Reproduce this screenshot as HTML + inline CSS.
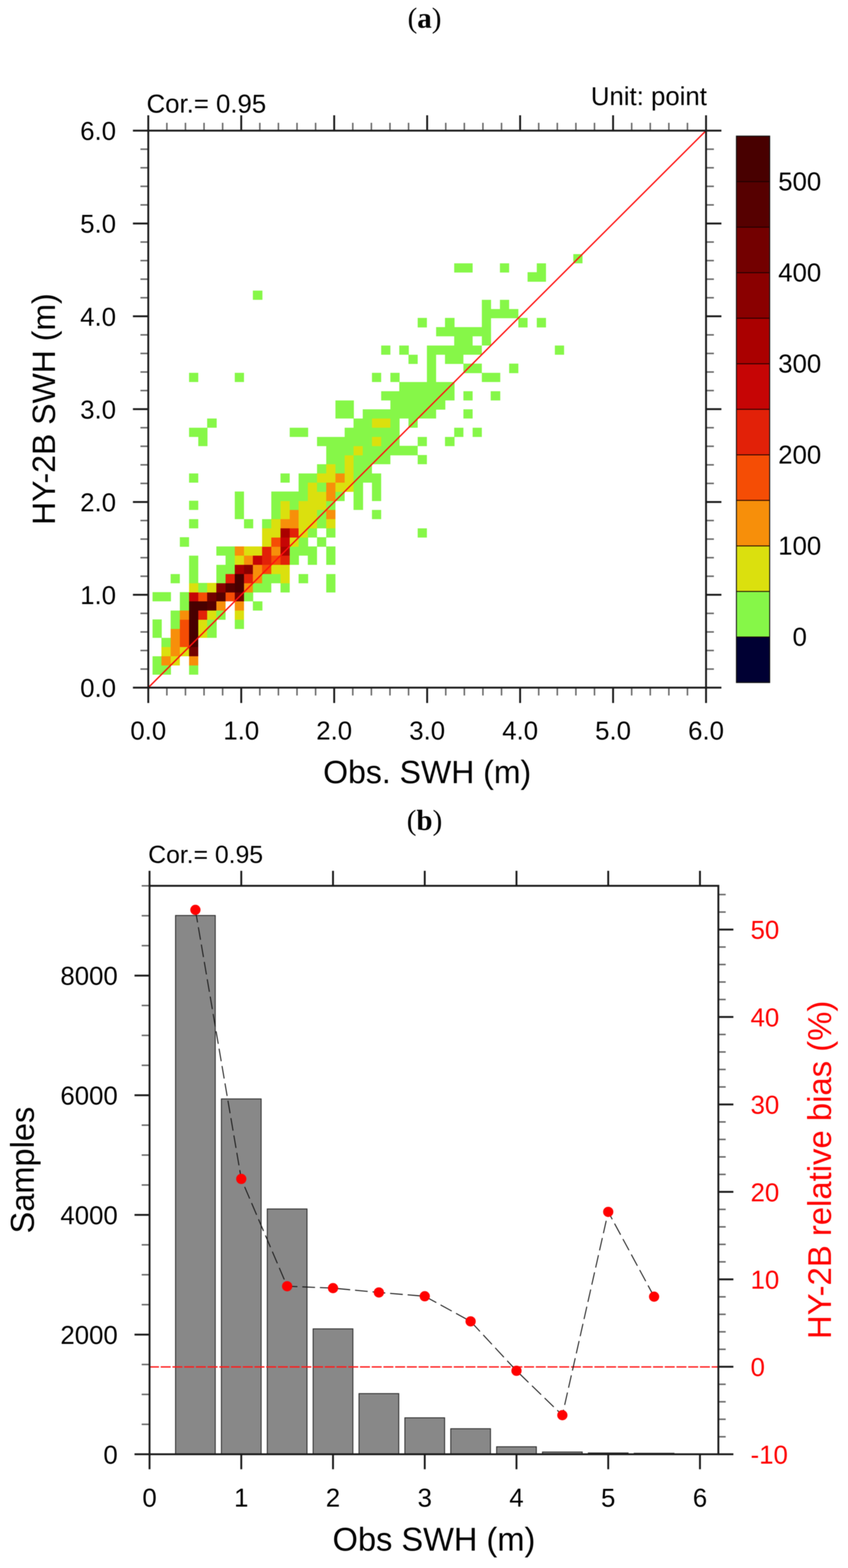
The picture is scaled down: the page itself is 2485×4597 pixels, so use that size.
<!DOCTYPE html>
<html lang="en">
<head>
<meta charset="utf-8">
<title>HY-2B SWH validation: (a) scatter density, (b) samples and relative bias</title>
<style>
html, body { margin: 0; padding: 0; background: #ffffff; }
body { width: 2485px; height: 4597px; overflow: hidden; }
svg { display: block; filter: blur(1px); }
</style>
</head>
<body>
<svg width="2485" height="4597" viewBox="0 0 2485 4597">
<rect x="0" y="0" width="2485" height="4597" fill="#ffffff"/>
<g shape-rendering="crispEdges">
<rect x="446.5" y="1950.42" width="27.21" height="27.19" fill="#86f748"/>
<rect x="473.31" y="1950.42" width="27.21" height="27.19" fill="#86f748"/>
<rect x="553.74" y="1950.42" width="27.21" height="27.19" fill="#86f748"/>
<rect x="446.5" y="1923.63" width="27.21" height="27.19" fill="#86f748"/>
<rect x="473.31" y="1923.63" width="27.21" height="27.19" fill="#f78f0a"/>
<rect x="500.12" y="1923.63" width="27.21" height="27.19" fill="#dbe00e"/>
<rect x="553.74" y="1923.63" width="27.21" height="27.19" fill="#f78f0a"/>
<rect x="473.31" y="1896.84" width="27.21" height="27.19" fill="#dbe00e"/>
<rect x="500.12" y="1896.84" width="27.21" height="27.19" fill="#f78f0a"/>
<rect x="526.93" y="1896.84" width="27.21" height="27.19" fill="#dbe00e"/>
<rect x="553.74" y="1896.84" width="27.21" height="27.19" fill="#730000"/>
<rect x="473.31" y="1870.05" width="27.21" height="27.19" fill="#86f748"/>
<rect x="500.12" y="1870.05" width="27.21" height="27.19" fill="#f78f0a"/>
<rect x="526.93" y="1870.05" width="27.21" height="27.19" fill="#f54d05"/>
<rect x="553.74" y="1870.05" width="27.21" height="27.19" fill="#480000"/>
<rect x="446.5" y="1843.26" width="27.21" height="27.19" fill="#86f748"/>
<rect x="500.12" y="1843.26" width="27.21" height="27.19" fill="#f78f0a"/>
<rect x="526.93" y="1843.26" width="27.21" height="27.19" fill="#f54d05"/>
<rect x="553.74" y="1843.26" width="27.21" height="27.19" fill="#480000"/>
<rect x="580.55" y="1843.26" width="27.21" height="27.19" fill="#dbe00e"/>
<rect x="607.36" y="1843.26" width="27.21" height="27.19" fill="#86f748"/>
<rect x="446.5" y="1816.47" width="27.21" height="27.19" fill="#86f748"/>
<rect x="500.12" y="1816.47" width="27.21" height="27.19" fill="#86f748"/>
<rect x="526.93" y="1816.47" width="27.21" height="27.19" fill="#f54d05"/>
<rect x="553.74" y="1816.47" width="27.21" height="27.19" fill="#480000"/>
<rect x="580.55" y="1816.47" width="27.21" height="27.19" fill="#dbe00e"/>
<rect x="607.36" y="1816.47" width="27.21" height="27.19" fill="#86f748"/>
<rect x="687.79" y="1816.47" width="27.21" height="27.19" fill="#86f748"/>
<rect x="500.12" y="1789.68" width="27.21" height="27.19" fill="#86f748"/>
<rect x="526.93" y="1789.68" width="27.21" height="27.19" fill="#f78f0a"/>
<rect x="553.74" y="1789.68" width="27.21" height="27.19" fill="#480000"/>
<rect x="580.55" y="1789.68" width="27.21" height="27.19" fill="#e22108"/>
<rect x="607.36" y="1789.68" width="27.21" height="27.19" fill="#dbe00e"/>
<rect x="634.17" y="1789.68" width="27.21" height="27.19" fill="#86f748"/>
<rect x="687.79" y="1789.68" width="27.21" height="27.19" fill="#dbe00e"/>
<rect x="526.93" y="1762.89" width="27.21" height="27.19" fill="#86f748"/>
<rect x="553.74" y="1762.89" width="27.21" height="27.19" fill="#480000"/>
<rect x="580.55" y="1762.89" width="27.21" height="27.19" fill="#480000"/>
<rect x="607.36" y="1762.89" width="27.21" height="27.19" fill="#560000"/>
<rect x="634.17" y="1762.89" width="27.21" height="27.19" fill="#f78f0a"/>
<rect x="687.79" y="1762.89" width="27.21" height="27.19" fill="#f78f0a"/>
<rect x="741.41" y="1762.89" width="27.21" height="27.19" fill="#86f748"/>
<rect x="446.5" y="1736.1" width="27.21" height="27.19" fill="#86f748"/>
<rect x="473.31" y="1736.1" width="27.21" height="27.19" fill="#86f748"/>
<rect x="526.93" y="1736.1" width="27.21" height="27.19" fill="#86f748"/>
<rect x="553.74" y="1736.1" width="27.21" height="27.19" fill="#c60505"/>
<rect x="580.55" y="1736.1" width="27.21" height="27.19" fill="#f54d05"/>
<rect x="607.36" y="1736.1" width="27.21" height="27.19" fill="#730000"/>
<rect x="634.17" y="1736.1" width="27.21" height="27.19" fill="#560000"/>
<rect x="660.98" y="1736.1" width="27.21" height="27.19" fill="#f54d05"/>
<rect x="687.79" y="1736.1" width="27.21" height="27.19" fill="#730000"/>
<rect x="714.6" y="1736.1" width="27.21" height="27.19" fill="#86f748"/>
<rect x="553.74" y="1709.31" width="27.21" height="27.19" fill="#dbe00e"/>
<rect x="580.55" y="1709.31" width="27.21" height="27.19" fill="#86f748"/>
<rect x="607.36" y="1709.31" width="27.21" height="27.19" fill="#dbe00e"/>
<rect x="634.17" y="1709.31" width="27.21" height="27.19" fill="#8a0000"/>
<rect x="660.98" y="1709.31" width="27.21" height="27.19" fill="#560000"/>
<rect x="687.79" y="1709.31" width="27.21" height="27.19" fill="#480000"/>
<rect x="714.6" y="1709.31" width="27.21" height="27.19" fill="#f78f0a"/>
<rect x="741.41" y="1709.31" width="27.21" height="27.19" fill="#86f748"/>
<rect x="768.22" y="1709.31" width="27.21" height="27.19" fill="#86f748"/>
<rect x="821.84" y="1709.31" width="27.21" height="27.19" fill="#86f748"/>
<rect x="955.89" y="1709.31" width="27.21" height="27.19" fill="#86f748"/>
<rect x="500.12" y="1682.52" width="27.21" height="27.19" fill="#86f748"/>
<rect x="553.74" y="1682.52" width="27.21" height="27.19" fill="#86f748"/>
<rect x="634.17" y="1682.52" width="27.21" height="27.19" fill="#86f748"/>
<rect x="660.98" y="1682.52" width="27.21" height="27.19" fill="#e22108"/>
<rect x="687.79" y="1682.52" width="27.21" height="27.19" fill="#480000"/>
<rect x="714.6" y="1682.52" width="27.21" height="27.19" fill="#e22108"/>
<rect x="741.41" y="1682.52" width="27.21" height="27.19" fill="#f78f0a"/>
<rect x="768.22" y="1682.52" width="27.21" height="27.19" fill="#86f748"/>
<rect x="795.03" y="1682.52" width="27.21" height="27.19" fill="#86f748"/>
<rect x="821.84" y="1682.52" width="27.21" height="27.19" fill="#dbe00e"/>
<rect x="875.46" y="1682.52" width="27.21" height="27.19" fill="#86f748"/>
<rect x="955.89" y="1682.52" width="27.21" height="27.19" fill="#86f748"/>
<rect x="553.74" y="1655.73" width="27.21" height="27.19" fill="#86f748"/>
<rect x="634.17" y="1655.73" width="27.21" height="27.19" fill="#86f748"/>
<rect x="660.98" y="1655.73" width="27.21" height="27.19" fill="#86f748"/>
<rect x="687.79" y="1655.73" width="27.21" height="27.19" fill="#aa0000"/>
<rect x="714.6" y="1655.73" width="27.21" height="27.19" fill="#8a0000"/>
<rect x="741.41" y="1655.73" width="27.21" height="27.19" fill="#f78f0a"/>
<rect x="768.22" y="1655.73" width="27.21" height="27.19" fill="#f54d05"/>
<rect x="795.03" y="1655.73" width="27.21" height="27.19" fill="#dbe00e"/>
<rect x="821.84" y="1655.73" width="27.21" height="27.19" fill="#dbe00e"/>
<rect x="553.74" y="1628.94" width="27.21" height="27.19" fill="#86f748"/>
<rect x="660.98" y="1628.94" width="27.21" height="27.19" fill="#86f748"/>
<rect x="687.79" y="1628.94" width="27.21" height="27.19" fill="#dbe00e"/>
<rect x="714.6" y="1628.94" width="27.21" height="27.19" fill="#f78f0a"/>
<rect x="741.41" y="1628.94" width="27.21" height="27.19" fill="#c60505"/>
<rect x="768.22" y="1628.94" width="27.21" height="27.19" fill="#e22108"/>
<rect x="795.03" y="1628.94" width="27.21" height="27.19" fill="#f54d05"/>
<rect x="821.84" y="1628.94" width="27.21" height="27.19" fill="#e22108"/>
<rect x="848.65" y="1628.94" width="27.21" height="27.19" fill="#86f748"/>
<rect x="902.27" y="1628.94" width="27.21" height="27.19" fill="#86f748"/>
<rect x="955.89" y="1628.94" width="27.21" height="27.19" fill="#86f748"/>
<rect x="634.17" y="1602.15" width="27.21" height="27.19" fill="#86f748"/>
<rect x="660.98" y="1602.15" width="27.21" height="27.19" fill="#86f748"/>
<rect x="687.79" y="1602.15" width="27.21" height="27.19" fill="#f78f0a"/>
<rect x="714.6" y="1602.15" width="27.21" height="27.19" fill="#dbe00e"/>
<rect x="741.41" y="1602.15" width="27.21" height="27.19" fill="#dbe00e"/>
<rect x="768.22" y="1602.15" width="27.21" height="27.19" fill="#e22108"/>
<rect x="795.03" y="1602.15" width="27.21" height="27.19" fill="#f78f0a"/>
<rect x="821.84" y="1602.15" width="27.21" height="27.19" fill="#aa0000"/>
<rect x="848.65" y="1602.15" width="27.21" height="27.19" fill="#86f748"/>
<rect x="875.46" y="1602.15" width="27.21" height="27.19" fill="#86f748"/>
<rect x="902.27" y="1602.15" width="27.21" height="27.19" fill="#86f748"/>
<rect x="955.89" y="1602.15" width="27.21" height="27.19" fill="#86f748"/>
<rect x="526.93" y="1575.36" width="27.21" height="27.19" fill="#86f748"/>
<rect x="768.22" y="1575.36" width="27.21" height="27.19" fill="#dbe00e"/>
<rect x="795.03" y="1575.36" width="27.21" height="27.19" fill="#f54d05"/>
<rect x="821.84" y="1575.36" width="27.21" height="27.19" fill="#c60505"/>
<rect x="848.65" y="1575.36" width="27.21" height="27.19" fill="#dbe00e"/>
<rect x="875.46" y="1575.36" width="27.21" height="27.19" fill="#86f748"/>
<rect x="929.08" y="1575.36" width="27.21" height="27.19" fill="#86f748"/>
<rect x="768.22" y="1548.57" width="27.21" height="27.19" fill="#dbe00e"/>
<rect x="795.03" y="1548.57" width="27.21" height="27.19" fill="#dbe00e"/>
<rect x="821.84" y="1548.57" width="27.21" height="27.19" fill="#aa0000"/>
<rect x="848.65" y="1548.57" width="27.21" height="27.19" fill="#e22108"/>
<rect x="875.46" y="1548.57" width="27.21" height="27.19" fill="#dbe00e"/>
<rect x="902.27" y="1548.57" width="27.21" height="27.19" fill="#86f748"/>
<rect x="955.89" y="1548.57" width="27.21" height="27.19" fill="#86f748"/>
<rect x="1223.99" y="1548.57" width="27.21" height="27.19" fill="#86f748"/>
<rect x="553.74" y="1521.78" width="27.21" height="27.19" fill="#86f748"/>
<rect x="714.6" y="1521.78" width="27.21" height="27.19" fill="#86f748"/>
<rect x="768.22" y="1521.78" width="27.21" height="27.19" fill="#86f748"/>
<rect x="795.03" y="1521.78" width="27.21" height="27.19" fill="#dbe00e"/>
<rect x="821.84" y="1521.78" width="27.21" height="27.19" fill="#f78f0a"/>
<rect x="848.65" y="1521.78" width="27.21" height="27.19" fill="#f78f0a"/>
<rect x="875.46" y="1521.78" width="27.21" height="27.19" fill="#dbe00e"/>
<rect x="902.27" y="1521.78" width="27.21" height="27.19" fill="#dbe00e"/>
<rect x="929.08" y="1521.78" width="27.21" height="27.19" fill="#86f748"/>
<rect x="955.89" y="1521.78" width="27.21" height="27.19" fill="#dbe00e"/>
<rect x="687.79" y="1494.99" width="27.21" height="27.19" fill="#86f748"/>
<rect x="795.03" y="1494.99" width="27.21" height="27.19" fill="#86f748"/>
<rect x="821.84" y="1494.99" width="27.21" height="27.19" fill="#dbe00e"/>
<rect x="848.65" y="1494.99" width="27.21" height="27.19" fill="#f78f0a"/>
<rect x="875.46" y="1494.99" width="27.21" height="27.19" fill="#dbe00e"/>
<rect x="902.27" y="1494.99" width="27.21" height="27.19" fill="#dbe00e"/>
<rect x="929.08" y="1494.99" width="27.21" height="27.19" fill="#86f748"/>
<rect x="955.89" y="1494.99" width="27.21" height="27.19" fill="#f78f0a"/>
<rect x="1089.94" y="1494.99" width="27.21" height="27.19" fill="#86f748"/>
<rect x="553.74" y="1468.2" width="27.21" height="27.19" fill="#86f748"/>
<rect x="687.79" y="1468.2" width="27.21" height="27.19" fill="#86f748"/>
<rect x="795.03" y="1468.2" width="27.21" height="27.19" fill="#86f748"/>
<rect x="821.84" y="1468.2" width="27.21" height="27.19" fill="#dbe00e"/>
<rect x="848.65" y="1468.2" width="27.21" height="27.19" fill="#86f748"/>
<rect x="875.46" y="1468.2" width="27.21" height="27.19" fill="#dbe00e"/>
<rect x="902.27" y="1468.2" width="27.21" height="27.19" fill="#dbe00e"/>
<rect x="929.08" y="1468.2" width="27.21" height="27.19" fill="#dbe00e"/>
<rect x="955.89" y="1468.2" width="27.21" height="27.19" fill="#86f748"/>
<rect x="1036.32" y="1468.2" width="27.21" height="27.19" fill="#86f748"/>
<rect x="687.79" y="1441.41" width="27.21" height="27.19" fill="#86f748"/>
<rect x="795.03" y="1441.41" width="27.21" height="27.19" fill="#86f748"/>
<rect x="821.84" y="1441.41" width="27.21" height="27.19" fill="#86f748"/>
<rect x="848.65" y="1441.41" width="27.21" height="27.19" fill="#86f748"/>
<rect x="875.46" y="1441.41" width="27.21" height="27.19" fill="#86f748"/>
<rect x="902.27" y="1441.41" width="27.21" height="27.19" fill="#dbe00e"/>
<rect x="929.08" y="1441.41" width="27.21" height="27.19" fill="#dbe00e"/>
<rect x="955.89" y="1441.41" width="27.21" height="27.19" fill="#f78f0a"/>
<rect x="982.7" y="1441.41" width="27.21" height="27.19" fill="#86f748"/>
<rect x="1036.32" y="1441.41" width="27.21" height="27.19" fill="#86f748"/>
<rect x="1089.94" y="1441.41" width="27.21" height="27.19" fill="#86f748"/>
<rect x="875.46" y="1414.62" width="27.21" height="27.19" fill="#86f748"/>
<rect x="902.27" y="1414.62" width="27.21" height="27.19" fill="#dbe00e"/>
<rect x="929.08" y="1414.62" width="27.21" height="27.19" fill="#86f748"/>
<rect x="955.89" y="1414.62" width="27.21" height="27.19" fill="#f78f0a"/>
<rect x="982.7" y="1414.62" width="27.21" height="27.19" fill="#dbe00e"/>
<rect x="1009.51" y="1414.62" width="27.21" height="27.19" fill="#dbe00e"/>
<rect x="1036.32" y="1414.62" width="27.21" height="27.19" fill="#86f748"/>
<rect x="1089.94" y="1414.62" width="27.21" height="27.19" fill="#86f748"/>
<rect x="553.74" y="1387.83" width="27.21" height="27.19" fill="#86f748"/>
<rect x="821.84" y="1387.83" width="27.21" height="27.19" fill="#86f748"/>
<rect x="875.46" y="1387.83" width="27.21" height="27.19" fill="#86f748"/>
<rect x="902.27" y="1387.83" width="27.21" height="27.19" fill="#86f748"/>
<rect x="929.08" y="1387.83" width="27.21" height="27.19" fill="#dbe00e"/>
<rect x="955.89" y="1387.83" width="27.21" height="27.19" fill="#dbe00e"/>
<rect x="982.7" y="1387.83" width="27.21" height="27.19" fill="#f78f0a"/>
<rect x="1009.51" y="1387.83" width="27.21" height="27.19" fill="#dbe00e"/>
<rect x="1036.32" y="1387.83" width="27.21" height="27.19" fill="#86f748"/>
<rect x="1063.13" y="1387.83" width="27.21" height="27.19" fill="#86f748"/>
<rect x="1089.94" y="1387.83" width="27.21" height="27.19" fill="#86f748"/>
<rect x="929.08" y="1361.04" width="27.21" height="27.19" fill="#86f748"/>
<rect x="955.89" y="1361.04" width="27.21" height="27.19" fill="#dbe00e"/>
<rect x="982.7" y="1361.04" width="27.21" height="27.19" fill="#86f748"/>
<rect x="1009.51" y="1361.04" width="27.21" height="27.19" fill="#dbe00e"/>
<rect x="1036.32" y="1361.04" width="27.21" height="27.19" fill="#86f748"/>
<rect x="1063.13" y="1361.04" width="27.21" height="27.19" fill="#86f748"/>
<rect x="955.89" y="1334.25" width="27.21" height="27.19" fill="#86f748"/>
<rect x="982.7" y="1334.25" width="27.21" height="27.19" fill="#86f748"/>
<rect x="1009.51" y="1334.25" width="27.21" height="27.19" fill="#dbe00e"/>
<rect x="1036.32" y="1334.25" width="27.21" height="27.19" fill="#86f748"/>
<rect x="1063.13" y="1334.25" width="27.21" height="27.19" fill="#86f748"/>
<rect x="1089.94" y="1334.25" width="27.21" height="27.19" fill="#86f748"/>
<rect x="1116.75" y="1334.25" width="27.21" height="27.19" fill="#86f748"/>
<rect x="1223.99" y="1334.25" width="27.21" height="27.19" fill="#86f748"/>
<rect x="955.89" y="1307.46" width="27.21" height="27.19" fill="#86f748"/>
<rect x="982.7" y="1307.46" width="27.21" height="27.19" fill="#86f748"/>
<rect x="1009.51" y="1307.46" width="27.21" height="27.19" fill="#86f748"/>
<rect x="1036.32" y="1307.46" width="27.21" height="27.19" fill="#dbe00e"/>
<rect x="1063.13" y="1307.46" width="27.21" height="27.19" fill="#86f748"/>
<rect x="1089.94" y="1307.46" width="27.21" height="27.19" fill="#86f748"/>
<rect x="1116.75" y="1307.46" width="27.21" height="27.19" fill="#86f748"/>
<rect x="1143.56" y="1307.46" width="27.21" height="27.19" fill="#86f748"/>
<rect x="1170.37" y="1307.46" width="27.21" height="27.19" fill="#86f748"/>
<rect x="1197.18" y="1307.46" width="27.21" height="27.19" fill="#86f748"/>
<rect x="580.55" y="1280.67" width="27.21" height="27.19" fill="#86f748"/>
<rect x="929.08" y="1280.67" width="27.21" height="27.19" fill="#86f748"/>
<rect x="955.89" y="1280.67" width="27.21" height="27.19" fill="#86f748"/>
<rect x="982.7" y="1280.67" width="27.21" height="27.19" fill="#86f748"/>
<rect x="1009.51" y="1280.67" width="27.21" height="27.19" fill="#86f748"/>
<rect x="1036.32" y="1280.67" width="27.21" height="27.19" fill="#86f748"/>
<rect x="1063.13" y="1280.67" width="27.21" height="27.19" fill="#86f748"/>
<rect x="1089.94" y="1280.67" width="27.21" height="27.19" fill="#dbe00e"/>
<rect x="1116.75" y="1280.67" width="27.21" height="27.19" fill="#86f748"/>
<rect x="1143.56" y="1280.67" width="27.21" height="27.19" fill="#86f748"/>
<rect x="1223.99" y="1280.67" width="27.21" height="27.19" fill="#86f748"/>
<rect x="1304.42" y="1280.67" width="27.21" height="27.19" fill="#86f748"/>
<rect x="553.74" y="1253.88" width="27.21" height="27.19" fill="#86f748"/>
<rect x="580.55" y="1253.88" width="27.21" height="27.19" fill="#86f748"/>
<rect x="848.65" y="1253.88" width="27.21" height="27.19" fill="#86f748"/>
<rect x="875.46" y="1253.88" width="27.21" height="27.19" fill="#86f748"/>
<rect x="1009.51" y="1253.88" width="27.21" height="27.19" fill="#86f748"/>
<rect x="1036.32" y="1253.88" width="27.21" height="27.19" fill="#86f748"/>
<rect x="1063.13" y="1253.88" width="27.21" height="27.19" fill="#86f748"/>
<rect x="1089.94" y="1253.88" width="27.21" height="27.19" fill="#86f748"/>
<rect x="1116.75" y="1253.88" width="27.21" height="27.19" fill="#86f748"/>
<rect x="1143.56" y="1253.88" width="27.21" height="27.19" fill="#86f748"/>
<rect x="1331.23" y="1253.88" width="27.21" height="27.19" fill="#86f748"/>
<rect x="1384.85" y="1253.88" width="27.21" height="27.19" fill="#86f748"/>
<rect x="607.36" y="1227.09" width="27.21" height="27.19" fill="#86f748"/>
<rect x="1036.32" y="1227.09" width="27.21" height="27.19" fill="#86f748"/>
<rect x="1063.13" y="1227.09" width="27.21" height="27.19" fill="#86f748"/>
<rect x="1089.94" y="1227.09" width="27.21" height="27.19" fill="#dbe00e"/>
<rect x="1116.75" y="1227.09" width="27.21" height="27.19" fill="#dbe00e"/>
<rect x="1143.56" y="1227.09" width="27.21" height="27.19" fill="#86f748"/>
<rect x="1197.18" y="1227.09" width="27.21" height="27.19" fill="#86f748"/>
<rect x="982.7" y="1200.3" width="27.21" height="27.19" fill="#86f748"/>
<rect x="1009.51" y="1200.3" width="27.21" height="27.19" fill="#86f748"/>
<rect x="1063.13" y="1200.3" width="27.21" height="27.19" fill="#86f748"/>
<rect x="1089.94" y="1200.3" width="27.21" height="27.19" fill="#86f748"/>
<rect x="1116.75" y="1200.3" width="27.21" height="27.19" fill="#86f748"/>
<rect x="1143.56" y="1200.3" width="27.21" height="27.19" fill="#86f748"/>
<rect x="1170.37" y="1200.3" width="27.21" height="27.19" fill="#86f748"/>
<rect x="1197.18" y="1200.3" width="27.21" height="27.19" fill="#86f748"/>
<rect x="1223.99" y="1200.3" width="27.21" height="27.19" fill="#86f748"/>
<rect x="1250.8" y="1200.3" width="27.21" height="27.19" fill="#86f748"/>
<rect x="1358.04" y="1200.3" width="27.21" height="27.19" fill="#86f748"/>
<rect x="982.7" y="1173.51" width="27.21" height="27.19" fill="#86f748"/>
<rect x="1009.51" y="1173.51" width="27.21" height="27.19" fill="#86f748"/>
<rect x="1143.56" y="1173.51" width="27.21" height="27.19" fill="#86f748"/>
<rect x="1170.37" y="1173.51" width="27.21" height="27.19" fill="#86f748"/>
<rect x="1197.18" y="1173.51" width="27.21" height="27.19" fill="#86f748"/>
<rect x="1223.99" y="1173.51" width="27.21" height="27.19" fill="#86f748"/>
<rect x="1250.8" y="1173.51" width="27.21" height="27.19" fill="#86f748"/>
<rect x="1277.61" y="1173.51" width="27.21" height="27.19" fill="#86f748"/>
<rect x="1116.75" y="1146.72" width="27.21" height="27.19" fill="#86f748"/>
<rect x="1143.56" y="1146.72" width="27.21" height="27.19" fill="#86f748"/>
<rect x="1170.37" y="1146.72" width="27.21" height="27.19" fill="#86f748"/>
<rect x="1197.18" y="1146.72" width="27.21" height="27.19" fill="#86f748"/>
<rect x="1223.99" y="1146.72" width="27.21" height="27.19" fill="#86f748"/>
<rect x="1250.8" y="1146.72" width="27.21" height="27.19" fill="#86f748"/>
<rect x="1277.61" y="1146.72" width="27.21" height="27.19" fill="#86f748"/>
<rect x="1304.42" y="1146.72" width="27.21" height="27.19" fill="#86f748"/>
<rect x="1358.04" y="1146.72" width="27.21" height="27.19" fill="#86f748"/>
<rect x="1438.47" y="1146.72" width="27.21" height="27.19" fill="#86f748"/>
<rect x="1170.37" y="1119.93" width="27.21" height="27.19" fill="#86f748"/>
<rect x="1197.18" y="1119.93" width="27.21" height="27.19" fill="#86f748"/>
<rect x="1223.99" y="1119.93" width="27.21" height="27.19" fill="#86f748"/>
<rect x="1250.8" y="1119.93" width="27.21" height="27.19" fill="#86f748"/>
<rect x="1277.61" y="1119.93" width="27.21" height="27.19" fill="#86f748"/>
<rect x="1304.42" y="1119.93" width="27.21" height="27.19" fill="#86f748"/>
<rect x="553.74" y="1093.14" width="27.21" height="27.19" fill="#86f748"/>
<rect x="687.79" y="1093.14" width="27.21" height="27.19" fill="#86f748"/>
<rect x="1089.94" y="1093.14" width="27.21" height="27.19" fill="#86f748"/>
<rect x="1143.56" y="1093.14" width="27.21" height="27.19" fill="#86f748"/>
<rect x="1250.8" y="1093.14" width="27.21" height="27.19" fill="#86f748"/>
<rect x="1411.66" y="1093.14" width="27.21" height="27.19" fill="#86f748"/>
<rect x="1438.47" y="1093.14" width="27.21" height="27.19" fill="#86f748"/>
<rect x="1250.8" y="1066.35" width="27.21" height="27.19" fill="#86f748"/>
<rect x="1358.04" y="1066.35" width="27.21" height="27.19" fill="#86f748"/>
<rect x="1384.85" y="1066.35" width="27.21" height="27.19" fill="#86f748"/>
<rect x="1492.09" y="1066.35" width="27.21" height="27.19" fill="#86f748"/>
<rect x="1197.18" y="1039.56" width="27.21" height="27.19" fill="#86f748"/>
<rect x="1250.8" y="1039.56" width="27.21" height="27.19" fill="#86f748"/>
<rect x="1304.42" y="1039.56" width="27.21" height="27.19" fill="#86f748"/>
<rect x="1331.23" y="1039.56" width="27.21" height="27.19" fill="#86f748"/>
<rect x="1116.75" y="1012.77" width="27.21" height="27.19" fill="#86f748"/>
<rect x="1170.37" y="1012.77" width="27.21" height="27.19" fill="#86f748"/>
<rect x="1250.8" y="1012.77" width="27.21" height="27.19" fill="#86f748"/>
<rect x="1277.61" y="1012.77" width="27.21" height="27.19" fill="#86f748"/>
<rect x="1304.42" y="1012.77" width="27.21" height="27.19" fill="#86f748"/>
<rect x="1331.23" y="1012.77" width="27.21" height="27.19" fill="#86f748"/>
<rect x="1358.04" y="1012.77" width="27.21" height="27.19" fill="#86f748"/>
<rect x="1384.85" y="1012.77" width="27.21" height="27.19" fill="#86f748"/>
<rect x="1626.14" y="1012.77" width="27.21" height="27.19" fill="#86f748"/>
<rect x="1331.23" y="985.98" width="27.21" height="27.19" fill="#86f748"/>
<rect x="1358.04" y="985.98" width="27.21" height="27.19" fill="#86f748"/>
<rect x="1411.66" y="985.98" width="27.21" height="27.19" fill="#86f748"/>
<rect x="1277.61" y="959.19" width="27.21" height="27.19" fill="#86f748"/>
<rect x="1304.42" y="959.19" width="27.21" height="27.19" fill="#86f748"/>
<rect x="1331.23" y="959.19" width="27.21" height="27.19" fill="#86f748"/>
<rect x="1358.04" y="959.19" width="27.21" height="27.19" fill="#86f748"/>
<rect x="1384.85" y="959.19" width="27.21" height="27.19" fill="#86f748"/>
<rect x="1411.66" y="959.19" width="27.21" height="27.19" fill="#86f748"/>
<rect x="1223.99" y="932.4" width="27.21" height="27.19" fill="#86f748"/>
<rect x="1304.42" y="932.4" width="27.21" height="27.19" fill="#86f748"/>
<rect x="1411.66" y="932.4" width="27.21" height="27.19" fill="#86f748"/>
<rect x="1518.9" y="932.4" width="27.21" height="27.19" fill="#86f748"/>
<rect x="1572.52" y="932.4" width="27.21" height="27.19" fill="#86f748"/>
<rect x="1411.66" y="905.61" width="27.21" height="27.19" fill="#86f748"/>
<rect x="1438.47" y="905.61" width="27.21" height="27.19" fill="#86f748"/>
<rect x="1465.28" y="905.61" width="27.21" height="27.19" fill="#86f748"/>
<rect x="1492.09" y="905.61" width="27.21" height="27.19" fill="#86f748"/>
<rect x="1411.66" y="878.82" width="27.21" height="27.19" fill="#86f748"/>
<rect x="1465.28" y="878.82" width="27.21" height="27.19" fill="#86f748"/>
<rect x="741.41" y="852.03" width="27.21" height="27.19" fill="#86f748"/>
<rect x="1545.71" y="798.45" width="27.21" height="27.19" fill="#86f748"/>
<rect x="1572.52" y="798.45" width="27.21" height="27.19" fill="#86f748"/>
<rect x="1331.23" y="771.66" width="27.21" height="27.19" fill="#86f748"/>
<rect x="1358.04" y="771.66" width="27.21" height="27.19" fill="#86f748"/>
<rect x="1465.28" y="771.66" width="27.21" height="27.19" fill="#86f748"/>
<rect x="1572.52" y="771.66" width="27.21" height="27.19" fill="#86f748"/>
<rect x="1679.76" y="744.87" width="27.21" height="27.19" fill="#86f748"/>
</g>
<line x1="434.5" y1="2016" x2="2069" y2="383" stroke="#ff1010" stroke-width="4"/>
<line x1="434.5" y1="2016" x2="434.5" y2="2061" stroke="#1a1a1a" stroke-width="5.5"/>
<line x1="434.5" y1="383" x2="434.5" y2="338" stroke="#1a1a1a" stroke-width="5.5"/>
<line x1="434.5" y1="2016" x2="389.5" y2="2016" stroke="#1a1a1a" stroke-width="5.5"/>
<line x1="2069" y1="2016" x2="2114" y2="2016" stroke="#1a1a1a" stroke-width="5.5"/>
<line x1="488.98" y1="2016" x2="488.98" y2="2039" stroke="#686868" stroke-width="4.4"/>
<line x1="488.98" y1="383" x2="488.98" y2="360" stroke="#686868" stroke-width="4.4"/>
<line x1="434.5" y1="1961.57" x2="411.5" y2="1961.57" stroke="#686868" stroke-width="4.4"/>
<line x1="2069" y1="1961.57" x2="2092" y2="1961.57" stroke="#686868" stroke-width="4.4"/>
<line x1="543.47" y1="2016" x2="543.47" y2="2039" stroke="#686868" stroke-width="4.4"/>
<line x1="543.47" y1="383" x2="543.47" y2="360" stroke="#686868" stroke-width="4.4"/>
<line x1="434.5" y1="1907.13" x2="411.5" y2="1907.13" stroke="#686868" stroke-width="4.4"/>
<line x1="2069" y1="1907.13" x2="2092" y2="1907.13" stroke="#686868" stroke-width="4.4"/>
<line x1="597.95" y1="2016" x2="597.95" y2="2039" stroke="#686868" stroke-width="4.4"/>
<line x1="597.95" y1="383" x2="597.95" y2="360" stroke="#686868" stroke-width="4.4"/>
<line x1="434.5" y1="1852.7" x2="411.5" y2="1852.7" stroke="#686868" stroke-width="4.4"/>
<line x1="2069" y1="1852.7" x2="2092" y2="1852.7" stroke="#686868" stroke-width="4.4"/>
<line x1="652.43" y1="2016" x2="652.43" y2="2039" stroke="#686868" stroke-width="4.4"/>
<line x1="652.43" y1="383" x2="652.43" y2="360" stroke="#686868" stroke-width="4.4"/>
<line x1="434.5" y1="1798.27" x2="411.5" y2="1798.27" stroke="#686868" stroke-width="4.4"/>
<line x1="2069" y1="1798.27" x2="2092" y2="1798.27" stroke="#686868" stroke-width="4.4"/>
<line x1="706.92" y1="2016" x2="706.92" y2="2061" stroke="#1a1a1a" stroke-width="5.5"/>
<line x1="706.92" y1="383" x2="706.92" y2="338" stroke="#1a1a1a" stroke-width="5.5"/>
<line x1="434.5" y1="1743.83" x2="389.5" y2="1743.83" stroke="#1a1a1a" stroke-width="5.5"/>
<line x1="2069" y1="1743.83" x2="2114" y2="1743.83" stroke="#1a1a1a" stroke-width="5.5"/>
<line x1="761.4" y1="2016" x2="761.4" y2="2039" stroke="#686868" stroke-width="4.4"/>
<line x1="761.4" y1="383" x2="761.4" y2="360" stroke="#686868" stroke-width="4.4"/>
<line x1="434.5" y1="1689.4" x2="411.5" y2="1689.4" stroke="#686868" stroke-width="4.4"/>
<line x1="2069" y1="1689.4" x2="2092" y2="1689.4" stroke="#686868" stroke-width="4.4"/>
<line x1="815.88" y1="2016" x2="815.88" y2="2039" stroke="#686868" stroke-width="4.4"/>
<line x1="815.88" y1="383" x2="815.88" y2="360" stroke="#686868" stroke-width="4.4"/>
<line x1="434.5" y1="1634.97" x2="411.5" y2="1634.97" stroke="#686868" stroke-width="4.4"/>
<line x1="2069" y1="1634.97" x2="2092" y2="1634.97" stroke="#686868" stroke-width="4.4"/>
<line x1="870.37" y1="2016" x2="870.37" y2="2039" stroke="#686868" stroke-width="4.4"/>
<line x1="870.37" y1="383" x2="870.37" y2="360" stroke="#686868" stroke-width="4.4"/>
<line x1="434.5" y1="1580.53" x2="411.5" y2="1580.53" stroke="#686868" stroke-width="4.4"/>
<line x1="2069" y1="1580.53" x2="2092" y2="1580.53" stroke="#686868" stroke-width="4.4"/>
<line x1="924.85" y1="2016" x2="924.85" y2="2039" stroke="#686868" stroke-width="4.4"/>
<line x1="924.85" y1="383" x2="924.85" y2="360" stroke="#686868" stroke-width="4.4"/>
<line x1="434.5" y1="1526.1" x2="411.5" y2="1526.1" stroke="#686868" stroke-width="4.4"/>
<line x1="2069" y1="1526.1" x2="2092" y2="1526.1" stroke="#686868" stroke-width="4.4"/>
<line x1="979.33" y1="2016" x2="979.33" y2="2061" stroke="#1a1a1a" stroke-width="5.5"/>
<line x1="979.33" y1="383" x2="979.33" y2="338" stroke="#1a1a1a" stroke-width="5.5"/>
<line x1="434.5" y1="1471.67" x2="389.5" y2="1471.67" stroke="#1a1a1a" stroke-width="5.5"/>
<line x1="2069" y1="1471.67" x2="2114" y2="1471.67" stroke="#1a1a1a" stroke-width="5.5"/>
<line x1="1033.82" y1="2016" x2="1033.82" y2="2039" stroke="#686868" stroke-width="4.4"/>
<line x1="1033.82" y1="383" x2="1033.82" y2="360" stroke="#686868" stroke-width="4.4"/>
<line x1="434.5" y1="1417.23" x2="411.5" y2="1417.23" stroke="#686868" stroke-width="4.4"/>
<line x1="2069" y1="1417.23" x2="2092" y2="1417.23" stroke="#686868" stroke-width="4.4"/>
<line x1="1088.3" y1="2016" x2="1088.3" y2="2039" stroke="#686868" stroke-width="4.4"/>
<line x1="1088.3" y1="383" x2="1088.3" y2="360" stroke="#686868" stroke-width="4.4"/>
<line x1="434.5" y1="1362.8" x2="411.5" y2="1362.8" stroke="#686868" stroke-width="4.4"/>
<line x1="2069" y1="1362.8" x2="2092" y2="1362.8" stroke="#686868" stroke-width="4.4"/>
<line x1="1142.78" y1="2016" x2="1142.78" y2="2039" stroke="#686868" stroke-width="4.4"/>
<line x1="1142.78" y1="383" x2="1142.78" y2="360" stroke="#686868" stroke-width="4.4"/>
<line x1="434.5" y1="1308.37" x2="411.5" y2="1308.37" stroke="#686868" stroke-width="4.4"/>
<line x1="2069" y1="1308.37" x2="2092" y2="1308.37" stroke="#686868" stroke-width="4.4"/>
<line x1="1197.27" y1="2016" x2="1197.27" y2="2039" stroke="#686868" stroke-width="4.4"/>
<line x1="1197.27" y1="383" x2="1197.27" y2="360" stroke="#686868" stroke-width="4.4"/>
<line x1="434.5" y1="1253.93" x2="411.5" y2="1253.93" stroke="#686868" stroke-width="4.4"/>
<line x1="2069" y1="1253.93" x2="2092" y2="1253.93" stroke="#686868" stroke-width="4.4"/>
<line x1="1251.75" y1="2016" x2="1251.75" y2="2061" stroke="#1a1a1a" stroke-width="5.5"/>
<line x1="1251.75" y1="383" x2="1251.75" y2="338" stroke="#1a1a1a" stroke-width="5.5"/>
<line x1="434.5" y1="1199.5" x2="389.5" y2="1199.5" stroke="#1a1a1a" stroke-width="5.5"/>
<line x1="2069" y1="1199.5" x2="2114" y2="1199.5" stroke="#1a1a1a" stroke-width="5.5"/>
<line x1="1306.23" y1="2016" x2="1306.23" y2="2039" stroke="#686868" stroke-width="4.4"/>
<line x1="1306.23" y1="383" x2="1306.23" y2="360" stroke="#686868" stroke-width="4.4"/>
<line x1="434.5" y1="1145.07" x2="411.5" y2="1145.07" stroke="#686868" stroke-width="4.4"/>
<line x1="2069" y1="1145.07" x2="2092" y2="1145.07" stroke="#686868" stroke-width="4.4"/>
<line x1="1360.72" y1="2016" x2="1360.72" y2="2039" stroke="#686868" stroke-width="4.4"/>
<line x1="1360.72" y1="383" x2="1360.72" y2="360" stroke="#686868" stroke-width="4.4"/>
<line x1="434.5" y1="1090.63" x2="411.5" y2="1090.63" stroke="#686868" stroke-width="4.4"/>
<line x1="2069" y1="1090.63" x2="2092" y2="1090.63" stroke="#686868" stroke-width="4.4"/>
<line x1="1415.2" y1="2016" x2="1415.2" y2="2039" stroke="#686868" stroke-width="4.4"/>
<line x1="1415.2" y1="383" x2="1415.2" y2="360" stroke="#686868" stroke-width="4.4"/>
<line x1="434.5" y1="1036.2" x2="411.5" y2="1036.2" stroke="#686868" stroke-width="4.4"/>
<line x1="2069" y1="1036.2" x2="2092" y2="1036.2" stroke="#686868" stroke-width="4.4"/>
<line x1="1469.68" y1="2016" x2="1469.68" y2="2039" stroke="#686868" stroke-width="4.4"/>
<line x1="1469.68" y1="383" x2="1469.68" y2="360" stroke="#686868" stroke-width="4.4"/>
<line x1="434.5" y1="981.77" x2="411.5" y2="981.77" stroke="#686868" stroke-width="4.4"/>
<line x1="2069" y1="981.77" x2="2092" y2="981.77" stroke="#686868" stroke-width="4.4"/>
<line x1="1524.17" y1="2016" x2="1524.17" y2="2061" stroke="#1a1a1a" stroke-width="5.5"/>
<line x1="1524.17" y1="383" x2="1524.17" y2="338" stroke="#1a1a1a" stroke-width="5.5"/>
<line x1="434.5" y1="927.33" x2="389.5" y2="927.33" stroke="#1a1a1a" stroke-width="5.5"/>
<line x1="2069" y1="927.33" x2="2114" y2="927.33" stroke="#1a1a1a" stroke-width="5.5"/>
<line x1="1578.65" y1="2016" x2="1578.65" y2="2039" stroke="#686868" stroke-width="4.4"/>
<line x1="1578.65" y1="383" x2="1578.65" y2="360" stroke="#686868" stroke-width="4.4"/>
<line x1="434.5" y1="872.9" x2="411.5" y2="872.9" stroke="#686868" stroke-width="4.4"/>
<line x1="2069" y1="872.9" x2="2092" y2="872.9" stroke="#686868" stroke-width="4.4"/>
<line x1="1633.13" y1="2016" x2="1633.13" y2="2039" stroke="#686868" stroke-width="4.4"/>
<line x1="1633.13" y1="383" x2="1633.13" y2="360" stroke="#686868" stroke-width="4.4"/>
<line x1="434.5" y1="818.47" x2="411.5" y2="818.47" stroke="#686868" stroke-width="4.4"/>
<line x1="2069" y1="818.47" x2="2092" y2="818.47" stroke="#686868" stroke-width="4.4"/>
<line x1="1687.62" y1="2016" x2="1687.62" y2="2039" stroke="#686868" stroke-width="4.4"/>
<line x1="1687.62" y1="383" x2="1687.62" y2="360" stroke="#686868" stroke-width="4.4"/>
<line x1="434.5" y1="764.03" x2="411.5" y2="764.03" stroke="#686868" stroke-width="4.4"/>
<line x1="2069" y1="764.03" x2="2092" y2="764.03" stroke="#686868" stroke-width="4.4"/>
<line x1="1742.1" y1="2016" x2="1742.1" y2="2039" stroke="#686868" stroke-width="4.4"/>
<line x1="1742.1" y1="383" x2="1742.1" y2="360" stroke="#686868" stroke-width="4.4"/>
<line x1="434.5" y1="709.6" x2="411.5" y2="709.6" stroke="#686868" stroke-width="4.4"/>
<line x1="2069" y1="709.6" x2="2092" y2="709.6" stroke="#686868" stroke-width="4.4"/>
<line x1="1796.58" y1="2016" x2="1796.58" y2="2061" stroke="#1a1a1a" stroke-width="5.5"/>
<line x1="1796.58" y1="383" x2="1796.58" y2="338" stroke="#1a1a1a" stroke-width="5.5"/>
<line x1="434.5" y1="655.17" x2="389.5" y2="655.17" stroke="#1a1a1a" stroke-width="5.5"/>
<line x1="2069" y1="655.17" x2="2114" y2="655.17" stroke="#1a1a1a" stroke-width="5.5"/>
<line x1="1851.07" y1="2016" x2="1851.07" y2="2039" stroke="#686868" stroke-width="4.4"/>
<line x1="1851.07" y1="383" x2="1851.07" y2="360" stroke="#686868" stroke-width="4.4"/>
<line x1="434.5" y1="600.73" x2="411.5" y2="600.73" stroke="#686868" stroke-width="4.4"/>
<line x1="2069" y1="600.73" x2="2092" y2="600.73" stroke="#686868" stroke-width="4.4"/>
<line x1="1905.55" y1="2016" x2="1905.55" y2="2039" stroke="#686868" stroke-width="4.4"/>
<line x1="1905.55" y1="383" x2="1905.55" y2="360" stroke="#686868" stroke-width="4.4"/>
<line x1="434.5" y1="546.3" x2="411.5" y2="546.3" stroke="#686868" stroke-width="4.4"/>
<line x1="2069" y1="546.3" x2="2092" y2="546.3" stroke="#686868" stroke-width="4.4"/>
<line x1="1960.03" y1="2016" x2="1960.03" y2="2039" stroke="#686868" stroke-width="4.4"/>
<line x1="1960.03" y1="383" x2="1960.03" y2="360" stroke="#686868" stroke-width="4.4"/>
<line x1="434.5" y1="491.87" x2="411.5" y2="491.87" stroke="#686868" stroke-width="4.4"/>
<line x1="2069" y1="491.87" x2="2092" y2="491.87" stroke="#686868" stroke-width="4.4"/>
<line x1="2014.52" y1="2016" x2="2014.52" y2="2039" stroke="#686868" stroke-width="4.4"/>
<line x1="2014.52" y1="383" x2="2014.52" y2="360" stroke="#686868" stroke-width="4.4"/>
<line x1="434.5" y1="437.43" x2="411.5" y2="437.43" stroke="#686868" stroke-width="4.4"/>
<line x1="2069" y1="437.43" x2="2092" y2="437.43" stroke="#686868" stroke-width="4.4"/>
<line x1="2069" y1="2016" x2="2069" y2="2061" stroke="#1a1a1a" stroke-width="5.5"/>
<line x1="2069" y1="383" x2="2069" y2="338" stroke="#1a1a1a" stroke-width="5.5"/>
<line x1="434.5" y1="383" x2="389.5" y2="383" stroke="#1a1a1a" stroke-width="5.5"/>
<line x1="2069" y1="383" x2="2114" y2="383" stroke="#1a1a1a" stroke-width="5.5"/>
<rect x="434.5" y="383" width="1634.5" height="1633" fill="none" stroke="#1a1a1a" stroke-width="5.5"/>
<text x="340" y="2043.2" font-size="75.5" text-anchor="end" fill="#000" font-family="'Liberation Sans', sans-serif">0.0</text>
<text x="434.5" y="2167.5" font-size="75.5" text-anchor="middle" fill="#000" font-family="'Liberation Sans', sans-serif">0.0</text>
<text x="340" y="1771.03" font-size="75.5" text-anchor="end" fill="#000" font-family="'Liberation Sans', sans-serif">1.0</text>
<text x="706.92" y="2167.5" font-size="75.5" text-anchor="middle" fill="#000" font-family="'Liberation Sans', sans-serif">1.0</text>
<text x="340" y="1498.87" font-size="75.5" text-anchor="end" fill="#000" font-family="'Liberation Sans', sans-serif">2.0</text>
<text x="979.33" y="2167.5" font-size="75.5" text-anchor="middle" fill="#000" font-family="'Liberation Sans', sans-serif">2.0</text>
<text x="340" y="1226.7" font-size="75.5" text-anchor="end" fill="#000" font-family="'Liberation Sans', sans-serif">3.0</text>
<text x="1251.75" y="2167.5" font-size="75.5" text-anchor="middle" fill="#000" font-family="'Liberation Sans', sans-serif">3.0</text>
<text x="340" y="954.53" font-size="75.5" text-anchor="end" fill="#000" font-family="'Liberation Sans', sans-serif">4.0</text>
<text x="1524.17" y="2167.5" font-size="75.5" text-anchor="middle" fill="#000" font-family="'Liberation Sans', sans-serif">4.0</text>
<text x="340" y="682.37" font-size="75.5" text-anchor="end" fill="#000" font-family="'Liberation Sans', sans-serif">5.0</text>
<text x="1796.58" y="2167.5" font-size="75.5" text-anchor="middle" fill="#000" font-family="'Liberation Sans', sans-serif">5.0</text>
<text x="340" y="410.2" font-size="75.5" text-anchor="end" fill="#000" font-family="'Liberation Sans', sans-serif">6.0</text>
<text x="2069" y="2167.5" font-size="75.5" text-anchor="middle" fill="#000" font-family="'Liberation Sans', sans-serif">6.0</text>
<text x="429.5" y="329.6" font-size="75.5" text-anchor="start" fill="#000" font-family="'Liberation Sans', sans-serif">Cor.= 0.95</text>
<text x="2071.5" y="308.2" font-size="75.5" text-anchor="end" fill="#000" font-family="'Liberation Sans', sans-serif">Unit: point</text>
<text transform="translate(161,1199.5) rotate(-90)" font-size="93.8" text-anchor="middle" font-family="'Liberation Sans', sans-serif">HY-2B SWH (m)</text>
<text x="1251.75" y="2295.6" font-size="93.8" text-anchor="middle" fill="#000" font-family="'Liberation Sans', sans-serif">Obs. SWH (m)</text>
<text x="1244" y="80.8" font-size="85" text-anchor="middle" font-family="'Liberation Serif', serif">(<tspan font-weight="bold">a</tspan>)</text>
<rect x="2158" y="399" width="97.5" height="134" fill="#480000"/>
<rect x="2158" y="532.5" width="97.5" height="134" fill="#560000"/>
<rect x="2158" y="666" width="97.5" height="134" fill="#730000"/>
<rect x="2158" y="799.5" width="97.5" height="134" fill="#8a0000"/>
<rect x="2158" y="933" width="97.5" height="134" fill="#aa0000"/>
<rect x="2158" y="1066.5" width="97.5" height="134" fill="#c60505"/>
<rect x="2158" y="1200" width="97.5" height="134" fill="#e22108"/>
<rect x="2158" y="1333.5" width="97.5" height="134" fill="#f54d05"/>
<rect x="2158" y="1467" width="97.5" height="134" fill="#f78f0a"/>
<rect x="2158" y="1600.5" width="97.5" height="134" fill="#dbe00e"/>
<rect x="2158" y="1734" width="97.5" height="134" fill="#86f748"/>
<rect x="2158" y="1867.5" width="97.5" height="134" fill="#000033"/>
<line x1="2158" y1="532.5" x2="2255.5" y2="532.5" stroke="#1a0000" stroke-width="2.6"/>
<line x1="2158" y1="666" x2="2255.5" y2="666" stroke="#1a0000" stroke-width="2.6"/>
<line x1="2158" y1="799.5" x2="2255.5" y2="799.5" stroke="#1a0000" stroke-width="2.6"/>
<line x1="2158" y1="933" x2="2255.5" y2="933" stroke="#1a0000" stroke-width="2.6"/>
<line x1="2158" y1="1066.5" x2="2255.5" y2="1066.5" stroke="#1a0000" stroke-width="2.6"/>
<line x1="2158" y1="1200" x2="2255.5" y2="1200" stroke="#1a0000" stroke-width="2.6"/>
<line x1="2158" y1="1333.5" x2="2255.5" y2="1333.5" stroke="#1a0000" stroke-width="2.6"/>
<line x1="2158" y1="1467" x2="2255.5" y2="1467" stroke="#1a0000" stroke-width="2.6"/>
<line x1="2158" y1="1600.5" x2="2255.5" y2="1600.5" stroke="#1a0000" stroke-width="2.6"/>
<line x1="2158" y1="1734" x2="2255.5" y2="1734" stroke="#1a0000" stroke-width="2.6"/>
<line x1="2158" y1="1867.5" x2="2255.5" y2="1867.5" stroke="#1a0000" stroke-width="2.6"/>
<rect x="2158" y="399" width="97.5" height="1602" fill="none" stroke="#111" stroke-width="2.8"/>
<text x="2343.5" y="558.3" font-size="75.5" text-anchor="middle" fill="#000" font-family="'Liberation Sans', sans-serif">500</text>
<text x="2343.5" y="825.3" font-size="75.5" text-anchor="middle" fill="#000" font-family="'Liberation Sans', sans-serif">400</text>
<text x="2343.5" y="1092.3" font-size="75.5" text-anchor="middle" fill="#000" font-family="'Liberation Sans', sans-serif">300</text>
<text x="2343.5" y="1359.3" font-size="75.5" text-anchor="middle" fill="#000" font-family="'Liberation Sans', sans-serif">200</text>
<text x="2343.5" y="1626.3" font-size="75.5" text-anchor="middle" fill="#000" font-family="'Liberation Sans', sans-serif">100</text>
<text x="2343.5" y="1893.3" font-size="75.5" text-anchor="middle" fill="#000" font-family="'Liberation Sans', sans-serif">0</text>
<rect x="514.37" y="2684" width="116.5" height="1579.5" fill="#888888" stroke="#2a2a2a" stroke-width="2.6"/>
<rect x="648.78" y="3221.8" width="116.5" height="1041.7" fill="#888888" stroke="#2a2a2a" stroke-width="2.6"/>
<rect x="783.19" y="3544.4" width="116.5" height="719.1" fill="#888888" stroke="#2a2a2a" stroke-width="2.6"/>
<rect x="917.61" y="3895.9" width="116.5" height="367.6" fill="#888888" stroke="#2a2a2a" stroke-width="2.6"/>
<rect x="1052.02" y="4085.7" width="116.5" height="177.8" fill="#888888" stroke="#2a2a2a" stroke-width="2.6"/>
<rect x="1186.44" y="4156.7" width="116.5" height="106.8" fill="#888888" stroke="#2a2a2a" stroke-width="2.6"/>
<rect x="1320.86" y="4188.7" width="116.5" height="74.8" fill="#888888" stroke="#2a2a2a" stroke-width="2.6"/>
<rect x="1455.27" y="4241.6" width="116.5" height="21.9" fill="#888888" stroke="#2a2a2a" stroke-width="2.6"/>
<rect x="1589.68" y="4256.9" width="116.5" height="6.6" fill="#888888" stroke="#2a2a2a" stroke-width="2.6"/>
<rect x="1724.1" y="4259.7" width="116.5" height="3.8" fill="#888888" stroke="#2a2a2a" stroke-width="2.6"/>
<rect x="1858.51" y="4260.6" width="116.5" height="2.9" fill="#888888" stroke="#2a2a2a" stroke-width="2.6"/>
<line x1="438.2" y1="4007.52" x2="2105.1" y2="4007.52" stroke="#ff1a1a" stroke-width="4" stroke-dasharray="29.3 5.05" stroke-dashoffset="1.65"/>
<polyline points="572.62,2667.5 707.03,3456.3 841.44,3770.9 975.86,3776.5 1110.27,3789.2 1244.69,3800.3 1379.11,3873.9 1513.52,4018.8 1647.93,4149 1782.35,3552.9 1916.76,3801.5" fill="none" stroke="#151515" stroke-width="2.8" stroke-dasharray="37.3 14.3"/>
<circle cx="572.62" cy="2667.5" r="15" fill="#ff0000"/>
<circle cx="707.03" cy="3456.3" r="15" fill="#ff0000"/>
<circle cx="841.44" cy="3770.9" r="15" fill="#ff0000"/>
<circle cx="975.86" cy="3776.5" r="15" fill="#ff0000"/>
<circle cx="1110.27" cy="3789.2" r="15" fill="#ff0000"/>
<circle cx="1244.69" cy="3800.3" r="15" fill="#ff0000"/>
<circle cx="1379.11" cy="3873.9" r="15" fill="#ff0000"/>
<circle cx="1513.52" cy="4018.8" r="15" fill="#ff0000"/>
<circle cx="1647.93" cy="4149" r="15" fill="#ff0000"/>
<circle cx="1782.35" cy="3552.9" r="15" fill="#ff0000"/>
<circle cx="1916.76" cy="3801.5" r="15" fill="#ff0000"/>
<line x1="438.2" y1="4263.5" x2="438.2" y2="4307.5" stroke="#1a1a1a" stroke-width="5.5"/>
<line x1="438.2" y1="2597" x2="438.2" y2="2553" stroke="#1a1a1a" stroke-width="5.5"/>
<text x="438.2" y="4417.2" font-size="75.5" text-anchor="middle" fill="#000" font-family="'Liberation Sans', sans-serif">0</text>
<line x1="707.03" y1="4263.5" x2="707.03" y2="4307.5" stroke="#1a1a1a" stroke-width="5.5"/>
<line x1="707.03" y1="2597" x2="707.03" y2="2553" stroke="#1a1a1a" stroke-width="5.5"/>
<text x="707.03" y="4417.2" font-size="75.5" text-anchor="middle" fill="#000" font-family="'Liberation Sans', sans-serif">1</text>
<line x1="975.86" y1="4263.5" x2="975.86" y2="4307.5" stroke="#1a1a1a" stroke-width="5.5"/>
<line x1="975.86" y1="2597" x2="975.86" y2="2553" stroke="#1a1a1a" stroke-width="5.5"/>
<text x="975.86" y="4417.2" font-size="75.5" text-anchor="middle" fill="#000" font-family="'Liberation Sans', sans-serif">2</text>
<line x1="1244.69" y1="4263.5" x2="1244.69" y2="4307.5" stroke="#1a1a1a" stroke-width="5.5"/>
<line x1="1244.69" y1="2597" x2="1244.69" y2="2553" stroke="#1a1a1a" stroke-width="5.5"/>
<text x="1244.69" y="4417.2" font-size="75.5" text-anchor="middle" fill="#000" font-family="'Liberation Sans', sans-serif">3</text>
<line x1="1513.52" y1="4263.5" x2="1513.52" y2="4307.5" stroke="#1a1a1a" stroke-width="5.5"/>
<line x1="1513.52" y1="2597" x2="1513.52" y2="2553" stroke="#1a1a1a" stroke-width="5.5"/>
<text x="1513.52" y="4417.2" font-size="75.5" text-anchor="middle" fill="#000" font-family="'Liberation Sans', sans-serif">4</text>
<line x1="1782.35" y1="4263.5" x2="1782.35" y2="4307.5" stroke="#1a1a1a" stroke-width="5.5"/>
<line x1="1782.35" y1="2597" x2="1782.35" y2="2553" stroke="#1a1a1a" stroke-width="5.5"/>
<text x="1782.35" y="4417.2" font-size="75.5" text-anchor="middle" fill="#000" font-family="'Liberation Sans', sans-serif">5</text>
<line x1="2051.18" y1="4263.5" x2="2051.18" y2="4307.5" stroke="#1a1a1a" stroke-width="5.5"/>
<line x1="2051.18" y1="2597" x2="2051.18" y2="2553" stroke="#1a1a1a" stroke-width="5.5"/>
<text x="2051.18" y="4417.2" font-size="75.5" text-anchor="middle" fill="#000" font-family="'Liberation Sans', sans-serif">6</text>
<line x1="438.2" y1="4263.5" x2="394.2" y2="4263.5" stroke="#1a1a1a" stroke-width="5.5"/>
<text x="345" y="4290.7" font-size="75.5" text-anchor="end" fill="#000" font-family="'Liberation Sans', sans-serif">0</text>
<line x1="438.2" y1="4175.79" x2="415.2" y2="4175.79" stroke="#686868" stroke-width="4.4"/>
<line x1="438.2" y1="4088.08" x2="415.2" y2="4088.08" stroke="#686868" stroke-width="4.4"/>
<line x1="438.2" y1="4000.37" x2="415.2" y2="4000.37" stroke="#686868" stroke-width="4.4"/>
<line x1="438.2" y1="3912.66" x2="394.2" y2="3912.66" stroke="#1a1a1a" stroke-width="5.5"/>
<text x="345" y="3939.86" font-size="75.5" text-anchor="end" fill="#000" font-family="'Liberation Sans', sans-serif">2000</text>
<line x1="438.2" y1="3824.95" x2="415.2" y2="3824.95" stroke="#686868" stroke-width="4.4"/>
<line x1="438.2" y1="3737.24" x2="415.2" y2="3737.24" stroke="#686868" stroke-width="4.4"/>
<line x1="438.2" y1="3649.53" x2="415.2" y2="3649.53" stroke="#686868" stroke-width="4.4"/>
<line x1="438.2" y1="3561.82" x2="394.2" y2="3561.82" stroke="#1a1a1a" stroke-width="5.5"/>
<text x="345" y="3589.02" font-size="75.5" text-anchor="end" fill="#000" font-family="'Liberation Sans', sans-serif">4000</text>
<line x1="438.2" y1="3474.11" x2="415.2" y2="3474.11" stroke="#686868" stroke-width="4.4"/>
<line x1="438.2" y1="3386.39" x2="415.2" y2="3386.39" stroke="#686868" stroke-width="4.4"/>
<line x1="438.2" y1="3298.68" x2="415.2" y2="3298.68" stroke="#686868" stroke-width="4.4"/>
<line x1="438.2" y1="3210.97" x2="394.2" y2="3210.97" stroke="#1a1a1a" stroke-width="5.5"/>
<text x="345" y="3238.17" font-size="75.5" text-anchor="end" fill="#000" font-family="'Liberation Sans', sans-serif">6000</text>
<line x1="438.2" y1="3123.26" x2="415.2" y2="3123.26" stroke="#686868" stroke-width="4.4"/>
<line x1="438.2" y1="3035.55" x2="415.2" y2="3035.55" stroke="#686868" stroke-width="4.4"/>
<line x1="438.2" y1="2947.84" x2="415.2" y2="2947.84" stroke="#686868" stroke-width="4.4"/>
<line x1="438.2" y1="2860.13" x2="394.2" y2="2860.13" stroke="#1a1a1a" stroke-width="5.5"/>
<text x="345" y="2887.33" font-size="75.5" text-anchor="end" fill="#000" font-family="'Liberation Sans', sans-serif">8000</text>
<line x1="438.2" y1="2772.42" x2="415.2" y2="2772.42" stroke="#686868" stroke-width="4.4"/>
<line x1="438.2" y1="2684.71" x2="415.2" y2="2684.71" stroke="#686868" stroke-width="4.4"/>
<line x1="438.2" y1="2597" x2="415.2" y2="2597" stroke="#686868" stroke-width="4.4"/>
<line x1="2105.1" y1="4263.5" x2="2149.1" y2="4263.5" stroke="#1a1a1a" stroke-width="5.5"/>
<text x="2199.5" y="4290.7" font-size="75.5" text-anchor="start" fill="#ff0000" font-family="'Liberation Sans', sans-serif">-10</text>
<line x1="2105.1" y1="4212.22" x2="2126.6" y2="4212.22" stroke="#686868" stroke-width="4.4"/>
<line x1="2105.1" y1="4160.95" x2="2126.6" y2="4160.95" stroke="#686868" stroke-width="4.4"/>
<line x1="2105.1" y1="4109.67" x2="2126.6" y2="4109.67" stroke="#686868" stroke-width="4.4"/>
<line x1="2105.1" y1="4058.39" x2="2126.6" y2="4058.39" stroke="#686868" stroke-width="4.4"/>
<line x1="2105.1" y1="4007.12" x2="2149.1" y2="4007.12" stroke="#1a1a1a" stroke-width="5.5"/>
<text x="2199.5" y="4034.32" font-size="75.5" text-anchor="start" fill="#ff0000" font-family="'Liberation Sans', sans-serif">0</text>
<line x1="2105.1" y1="3955.84" x2="2126.6" y2="3955.84" stroke="#686868" stroke-width="4.4"/>
<line x1="2105.1" y1="3904.56" x2="2126.6" y2="3904.56" stroke="#686868" stroke-width="4.4"/>
<line x1="2105.1" y1="3853.28" x2="2126.6" y2="3853.28" stroke="#686868" stroke-width="4.4"/>
<line x1="2105.1" y1="3802.01" x2="2126.6" y2="3802.01" stroke="#686868" stroke-width="4.4"/>
<line x1="2105.1" y1="3750.73" x2="2149.1" y2="3750.73" stroke="#1a1a1a" stroke-width="5.5"/>
<text x="2199.5" y="3777.93" font-size="75.5" text-anchor="start" fill="#ff0000" font-family="'Liberation Sans', sans-serif">10</text>
<line x1="2105.1" y1="3699.45" x2="2126.6" y2="3699.45" stroke="#686868" stroke-width="4.4"/>
<line x1="2105.1" y1="3648.18" x2="2126.6" y2="3648.18" stroke="#686868" stroke-width="4.4"/>
<line x1="2105.1" y1="3596.9" x2="2126.6" y2="3596.9" stroke="#686868" stroke-width="4.4"/>
<line x1="2105.1" y1="3545.62" x2="2126.6" y2="3545.62" stroke="#686868" stroke-width="4.4"/>
<line x1="2105.1" y1="3494.35" x2="2149.1" y2="3494.35" stroke="#1a1a1a" stroke-width="5.5"/>
<text x="2199.5" y="3521.55" font-size="75.5" text-anchor="start" fill="#ff0000" font-family="'Liberation Sans', sans-serif">20</text>
<line x1="2105.1" y1="3443.07" x2="2126.6" y2="3443.07" stroke="#686868" stroke-width="4.4"/>
<line x1="2105.1" y1="3391.79" x2="2126.6" y2="3391.79" stroke="#686868" stroke-width="4.4"/>
<line x1="2105.1" y1="3340.52" x2="2126.6" y2="3340.52" stroke="#686868" stroke-width="4.4"/>
<line x1="2105.1" y1="3289.24" x2="2126.6" y2="3289.24" stroke="#686868" stroke-width="4.4"/>
<line x1="2105.1" y1="3237.96" x2="2149.1" y2="3237.96" stroke="#1a1a1a" stroke-width="5.5"/>
<text x="2199.5" y="3265.16" font-size="75.5" text-anchor="start" fill="#ff0000" font-family="'Liberation Sans', sans-serif">30</text>
<line x1="2105.1" y1="3186.68" x2="2126.6" y2="3186.68" stroke="#686868" stroke-width="4.4"/>
<line x1="2105.1" y1="3135.41" x2="2126.6" y2="3135.41" stroke="#686868" stroke-width="4.4"/>
<line x1="2105.1" y1="3084.13" x2="2126.6" y2="3084.13" stroke="#686868" stroke-width="4.4"/>
<line x1="2105.1" y1="3032.85" x2="2126.6" y2="3032.85" stroke="#686868" stroke-width="4.4"/>
<line x1="2105.1" y1="2981.58" x2="2149.1" y2="2981.58" stroke="#1a1a1a" stroke-width="5.5"/>
<text x="2199.5" y="3008.78" font-size="75.5" text-anchor="start" fill="#ff0000" font-family="'Liberation Sans', sans-serif">40</text>
<line x1="2105.1" y1="2930.3" x2="2126.6" y2="2930.3" stroke="#686868" stroke-width="4.4"/>
<line x1="2105.1" y1="2879.02" x2="2126.6" y2="2879.02" stroke="#686868" stroke-width="4.4"/>
<line x1="2105.1" y1="2827.75" x2="2126.6" y2="2827.75" stroke="#686868" stroke-width="4.4"/>
<line x1="2105.1" y1="2776.47" x2="2126.6" y2="2776.47" stroke="#686868" stroke-width="4.4"/>
<line x1="2105.1" y1="2725.19" x2="2149.1" y2="2725.19" stroke="#1a1a1a" stroke-width="5.5"/>
<text x="2199.5" y="2752.39" font-size="75.5" text-anchor="start" fill="#ff0000" font-family="'Liberation Sans', sans-serif">50</text>
<line x1="2105.1" y1="2673.92" x2="2126.6" y2="2673.92" stroke="#686868" stroke-width="4.4"/>
<line x1="2105.1" y1="2622.64" x2="2126.6" y2="2622.64" stroke="#686868" stroke-width="4.4"/>
<rect x="438.2" y="2597" width="1666.9" height="1666.5" fill="none" stroke="#1a1a1a" stroke-width="5.5"/>
<text x="434.3" y="2529.5" font-size="72.5" text-anchor="start" fill="#000" font-family="'Liberation Sans', sans-serif">Cor.= 0.95</text>
<text transform="translate(98.9,3430.5) rotate(-90)" font-size="95.5" text-anchor="middle" font-family="'Liberation Sans', sans-serif">Samples</text>
<text transform="translate(2435.2,3429.7) rotate(-90)" font-size="96.3" text-anchor="middle" fill="#ff0000" font-family="'Liberation Sans', sans-serif">HY-2B relative bias (%)</text>
<text x="1271.7" y="4546.4" font-size="95.5" text-anchor="middle" fill="#000" font-family="'Liberation Sans', sans-serif">Obs SWH (m)</text>
<text x="1244" y="2432.6" font-size="85" text-anchor="middle" font-family="'Liberation Serif', serif">(<tspan font-weight="bold">b</tspan>)</text>
</svg>
</body>
</html>
